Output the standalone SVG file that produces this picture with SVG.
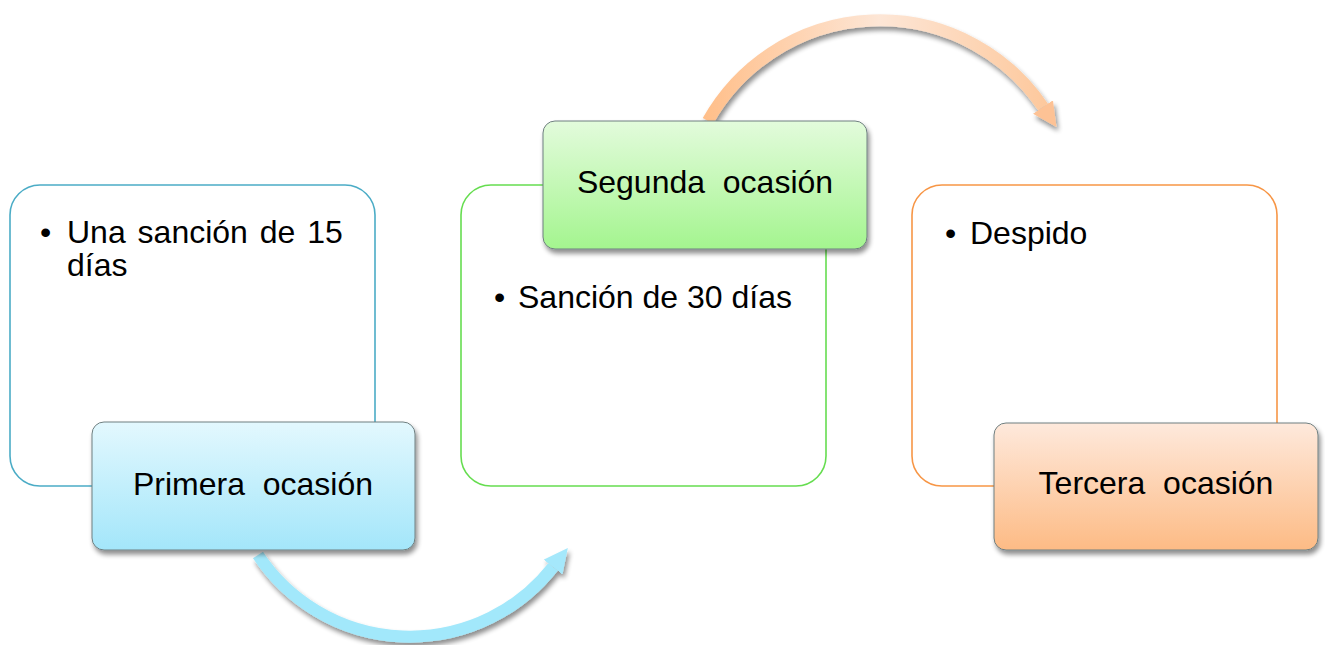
<svg xmlns="http://www.w3.org/2000/svg" width="1325" height="645" viewBox="0 0 1325 645">
<style>
  .t { font-family: "Liberation Sans", Arial, sans-serif; font-size: 32px; fill: #000; white-space: pre; }
  .lbl { text-anchor: middle; }
  .outline { fill: #fff; stroke-width: 1.6; }
  .label { stroke: #6f7f80; stroke-width: 1; }
</style>
<defs>
  <filter id="sh" x="-10%" y="-10%" width="125%" height="130%">
    <feGaussianBlur in="SourceAlpha" stdDeviation="2.5"/>
    <feOffset dx="2" dy="4" result="b"/>
    <feComponentTransfer><feFuncA type="linear" slope="0.45"/></feComponentTransfer>
    <feMerge><feMergeNode/><feMergeNode in="SourceGraphic"/></feMerge>
  </filter>
  <linearGradient id="gBlue" x1="0" y1="0" x2="0" y2="1">
    <stop offset="0" stop-color="#e3f8fe"/>
    <stop offset="1" stop-color="#a3e6fa"/>
  </linearGradient>
  <linearGradient id="gGreen" x1="0" y1="0" x2="0" y2="1">
    <stop offset="0" stop-color="#e3fbdc"/>
    <stop offset="1" stop-color="#a4f58f"/>
  </linearGradient>
  <linearGradient id="gOrange" x1="0" y1="0" x2="0" y2="1">
    <stop offset="0" stop-color="#fee9dc"/>
    <stop offset="1" stop-color="#fdbb85"/>
  </linearGradient>
  <linearGradient id="aOrange" gradientUnits="userSpaceOnUse" x1="705" y1="120" x2="1055" y2="120">
    <stop offset="0" stop-color="#ffbf8a"/>
    <stop offset="0.5" stop-color="#fde6d6"/>
    <stop offset="1" stop-color="#fdc79a"/>
  </linearGradient>
  <marker id="hBlue" viewBox="0 0 10 10" refX="0" refY="5" markerWidth="2" markerHeight="2" orient="auto" markerUnits="strokeWidth">
    <path d="M0,0 L10,5 L0,10 Z" fill="#a5e8fb"/>
  </marker>
  <marker id="hOrange" viewBox="0 0 10 10" refX="0" refY="5" markerWidth="2" markerHeight="2" orient="auto" markerUnits="strokeWidth">
    <path d="M0,0 L10,5 L0,10 Z" fill="#fdc295"/>
  </marker>
</defs>
<rect width="1325" height="645" fill="#fff"/>

<g id="connectors" filter="url(#sh)" fill="none">
  <path d="M258,555 A182,182 0 0 0 553,567" stroke="#a2e8fb" stroke-width="12" marker-end="url(#hBlue)"/>
  <path d="M708,121 A197,197 0 0 1 1043,107" stroke="url(#aOrange)" stroke-width="12" marker-end="url(#hOrange)"/>
</g>

<g id="node1">
  <rect class="outline" x="10" y="185" width="365" height="301" rx="30" stroke="#4bacc6"/>
  <text class="t" x="40" y="243">•</text>
  <text class="t" x="67" y="243" word-spacing="3">Una sanción de 15</text>
  <text class="t" x="67" y="276">días</text>
  <rect class="label" x="92" y="422" width="323" height="128" rx="12" fill="url(#gBlue)" filter="url(#sh)"/>
  <text class="t lbl" x="253" y="495">Primera  ocasión</text>
</g>

<g id="node2">
  <rect class="outline" x="461" y="185" width="365" height="301" rx="30" stroke="#66dd50"/>
  <text class="t" x="494" y="308">•</text>
  <text class="t" x="518" y="308">Sanción de 30 días</text>
  <rect class="label" x="543" y="121" width="324" height="128" rx="12" fill="url(#gGreen)" filter="url(#sh)"/>
  <text class="t lbl" x="705" y="193">Segunda  ocasión</text>
</g>

<g id="node3">
  <rect class="outline" x="912" y="185" width="365" height="301" rx="30" stroke="#f79646"/>
  <text class="t" x="945" y="244">•</text>
  <text class="t" x="970" y="244">Despido</text>
  <rect class="label" x="994" y="423" width="324" height="127" rx="12" fill="url(#gOrange)" filter="url(#sh)"/>
  <text class="t lbl" x="1156" y="494">Tercera  ocasión</text>
</g>
</svg>
